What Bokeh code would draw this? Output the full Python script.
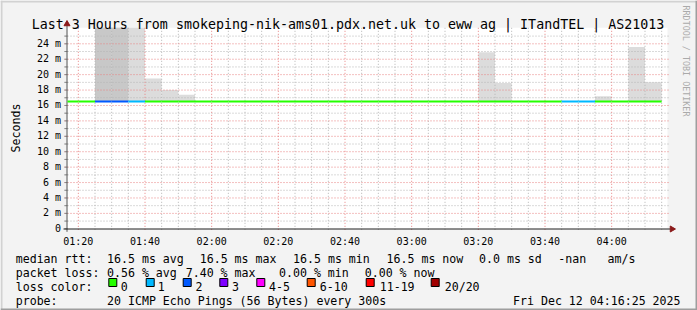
import pandas as pd
from math import pi
from bokeh.plotting import figure
from bokeh.models import Range1d, ColumnDataSource
from bokeh.core.properties import value
from bokeh.embed import file_html
from bokeh.resources import INLINE

DAY = "2025-12-12"
title_text = "Last 3 Hours from smokeping-nik-ams01.pdx.net.uk to eww ag | ITandTEL | AS21013"

# 5-minute consolidated intervals (start times)
interval_start = ["01:15", "01:20", "01:25", "01:30", "01:35", "01:40", "01:45", "01:50", "01:55",
                  "02:00", "02:05", "02:10", "02:15", "02:20", "02:25", "02:30", "02:35", "02:40",
                  "02:45", "02:50", "02:55", "03:00", "03:05", "03:10", "03:15", "03:20", "03:25",
                  "03:30", "03:35", "03:40", "03:45", "03:50", "03:55", "04:00", "04:05", "04:10"]
median_rtt_ms = [16.5, 16.5, 16.5, 16.5, 16.5, 16.5, 16.5, 16.5, 16.5,
                 16.5, 16.5, 16.5, 16.5, 16.5, 16.5, 16.5, 16.5, 16.5,
                 16.5, 16.5, 16.5, 16.5, 16.5, 16.5, 16.5, 16.5, 16.5,
                 16.5, 16.5, 16.5, 16.5, 16.5, 16.5, 16.5, 16.5, 16.5]
lost_pings = [0, 0, 2, 2, 1, 0, 0, 0, 0,
              0, 0, 0, 0, 0, 0, 0, 0, 0,
              0, 0, 0, 0, 0, 0, 0, 0, 0,
              0, 0, 0, 1, 1, 0, 0, 0, 0]
smoke_max_ms = [16.5, 16.5, 28.0, 28.0, 28.0, 19.5, 18.0, 17.4, 16.5,
                16.5, 16.5, 16.5, 16.5, 16.5, 16.5, 16.5, 16.5, 16.5,
                16.5, 16.5, 16.5, 16.5, 16.5, 16.5, 16.5, 22.9, 18.9,
                16.5, 16.5, 16.5, 16.5, 16.5, 17.2, 16.5, 23.6, 19.0]
smoke_dense_ms = [16.5, 16.5, 28.0, 28.0, 16.5, 16.5, 16.5, 16.5, 16.5,
                  16.5, 16.5, 16.5, 16.5, 16.5, 16.5, 16.5, 16.5, 16.5,
                  16.5, 16.5, 16.5, 16.5, 16.5, 16.5, 16.5, 16.5, 16.5,
                  16.5, 16.5, 16.5, 16.5, 16.5, 16.5, 16.5, 16.5, 16.5]

y_ticks = [0, 2, 4, 6, 8, 10, 12, 14, 16, 18, 20, 22, 24]
y_tick_labels = ["0", "2 m", "4 m", "6 m", "8 m", "10 m", "12 m", "14 m", "16 m",
                 "18 m", "20 m", "22 m", "24 m"]
y_minor = [1, 3, 5, 7, 9, 11, 13, 15, 17, 19, 21, 23, 25]
x_major = ["01:20", "01:40", "02:00", "02:20", "02:40", "03:00", "03:20", "03:40", "04:00"]
x_minor = ["01:25", "01:30", "01:35", "01:45", "01:50", "01:55", "02:05", "02:10", "02:15",
           "02:25", "02:30", "02:35", "02:45", "02:50", "02:55", "03:05", "03:10", "03:15",
           "03:25", "03:30", "03:35", "03:45", "03:50", "03:55", "04:05", "04:10", "04:15"]

loss_labels = ["0", "1", "2", "3", "4-5", "6-10", "11-19", "20/20"]
loss_colors = ["#26ff00", "#00b8ff", "#0059ff", "#7e00ff", "#ff00ff", "#ff5500", "#ff0000", "#a10000"]
loss_upper = [0, 1, 2, 3, 5, 10, 19, 20]

legend_rtt = ["median rtt:", "16.5 ms avg", "16.5 ms max", "16.5 ms min",
              "16.5 ms now", "0.0 ms sd", "-nan", "am/s"]
legend_loss = ["packet loss:", "0.56 % avg", "7.40 % max", "0.00 % min", "0.00 % now"]
probe_row = ["probe:", "20 ICMP Echo Pings (56 Bytes) every 300s", "Fri Dec 12 04:16:25 2025"]

# ---- layout (pixels of the 697x310 canvas) ----
W, H = 697, 310
PLOT_L, PLOT_R = 67, 667          # 600 px = 3 h  -> 18 s / px
SEC_PER_PX = 18
ZERO_Y, TOP_Y = 228.3, 27.3
PX_PER_MS = 7.708
FONT = "DejaVu Sans Mono"
rtt_x = [15.2, 106.5, 199.2, 292.5, 386.0, 478.5, 557.8, 607.0]
loss_x = [15.2, 106.5, 185.2, 278.5, 364.2]
probe_x = [15.2, 106.5, 512.5]
swatch_x = [108.3, 145.7, 182.7, 219.3, 256.3, 306.7, 365.7, 430.7]
swatch_label_x = [120.2, 157.3, 194.9, 231.5, 268.5, 319.2, 379.2, 444.2]


def ts(hm):
    return pd.Timestamp(f"{DAY} {hm}")


def color_for(n):
    for up, c in zip(loss_upper, loss_colors):
        if n <= up:
            return c
    return loss_colors[-1]


X0, X1 = ts("01:16:45"), ts("04:16:45")
Y_MAX = (ZERO_Y - TOP_Y) / PX_PER_MS

x_range = Range1d(X0 - pd.Timedelta(seconds=PLOT_L * SEC_PER_PX),
                  X1 + pd.Timedelta(seconds=(W - PLOT_R) * SEC_PER_PX))
y_range = Range1d(-(H - ZERO_Y) / PX_PER_MS, ZERO_Y / PX_PER_MS)

p = figure(width=W, height=H, x_range=x_range, y_range=y_range, x_axis_type=None, y_axis_type=None,
           output_backend="svg", toolbar_location=None, title=None, min_border=0,
           background_fill_color="#f3f3f3", border_fill_color="#f3f3f3", outline_line_color=None)
p.extra_x_ranges = {"px": Range1d(0, W)}
p.extra_y_ranges = {"px": Range1d(H, 0)}
p.xgrid.visible = False
p.ygrid.visible = False

# 3D canvas frame
p.quad(left=[0, 0], right=[W, 2], top=[0, 0], bottom=[2, H], fill_color="#d2d2d2",
       line_color=None, x_range_name="px", y_range_name="px")
p.quad(left=[0, W - 2], right=[W, W], top=[H - 2, 0], bottom=[H, H], fill_color="#9e9e9e",
       line_color=None, x_range_name="px", y_range_name="px")

# plot canvas
p.quad(left=[X0], right=[X1], bottom=[0], top=[Y_MAX], fill_color="white", line_color=None)

# smoke
starts = [ts(s) for s in interval_start]
ends = [t + pd.Timedelta(minutes=5) for t in starts]
src = ColumnDataSource(dict(
    start=[max(s, X0) for s in starts], end=[min(e, X1) for e in ends], med=median_rtt_ms,
    top=[min(v, Y_MAX) for v in smoke_max_ms], dense=[min(v, Y_MAX) for v in smoke_dense_ms],
    color=[color_for(n) for n in lost_pings]))
p.quad(left="start", right="end", bottom="med", top="top", source=src,
       fill_color="#dcdcdc", line_color=None)
p.quad(left="start", right="end", bottom="med", top="dense", source=src,
       fill_color="#c8c8c8", line_color=None)

# grid (dotted, drawn over the smoke like rrdtool)
GRID_MINOR, GRID_MAJOR, DASH = "#b4b4b4", "#e88080", "1 2"
p.segment(x0=[ts(t) for t in x_minor], x1=[ts(t) for t in x_minor], y0=TOP_Y, y1=ZERO_Y + 2,
          y_range_name="px", line_color=GRID_MINOR, line_dash=DASH, line_width=1)
p.segment(x0=PLOT_L - 3, x1=PLOT_R + 2, y0=y_minor, y1=y_minor, x_range_name="px",
          line_color=GRID_MINOR, line_dash=DASH, line_width=1)
p.segment(x0=[ts(t) for t in x_major], x1=[ts(t) for t in x_major], y0=TOP_Y, y1=ZERO_Y + 2,
          y_range_name="px", line_color=GRID_MAJOR, line_dash=DASH, line_width=1)
p.segment(x0=PLOT_L - 3, x1=PLOT_R + 2, y0=y_ticks[1:], y1=y_ticks[1:], x_range_name="px",
          line_color=GRID_MAJOR, line_dash=DASH, line_width=1)
# small axis ticks
p.segment(x0=PLOT_L - 3, x1=PLOT_L, y0=y_ticks + y_minor, y1=y_ticks + y_minor, x_range_name="px",
          line_color="#888888", line_width=1)

# axes
AX = "#222222"
p.segment(x0=[66.5], x1=[66.5], y0=[ZERO_Y + 3], y1=[24], x_range_name="px", y_range_name="px",
          line_color="#555555", line_width=1)
p.segment(x0=[63], x1=[670], y0=[228.5], y1=[228.5], x_range_name="px", y_range_name="px",
          line_color=AX, line_width=1)

# median line coloured by packet loss
p.segment(x0="start", x1="end", y0="med", y1="med", source=src, line_color="color", line_width=2)

# arrow heads
ARROW = "#8b1a1a"
p.scatter(x=[66.5], y=[23.5], marker="triangle", size=6, fill_color=ARROW, line_color=ARROW,
          x_range_name="px", y_range_name="px")
p.scatter(x=[671.5], y=[228.5], marker="triangle", size=6, angle=-pi / 2, fill_color=ARROW,
          line_color=ARROW, x_range_name="px", y_range_name="px")

# tick labels (through the data scales)
p.text(x=[66.5 - 6] * len(y_ticks), y=y_ticks, text=y_tick_labels, x_range_name="px",
       text_font=value(FONT), text_font_size=value("10px"), text_align="right",
       text_baseline="middle", y_offset=-0.5, text_color="black")
p.text(x=[ts(t) for t in x_major], y=[240.7] * len(x_major), text=x_major, y_range_name="px",
       text_font=value(FONT), text_font_size=value("10px"), text_align="center",
       text_baseline="alphabetic", text_color="black")


def texts(xs, ys, tx, size="11.6px", color="black", align="left", angle=0.0):
    p.text(x=xs, y=ys, text=tx, x_range_name="px", y_range_name="px", text_font=value(FONT),
           text_font_size=value(size), text_color=color, text_align=align,
           text_baseline="alphabetic", angle=angle)


texts([347.5], [24], [title_text], size="13.3px", align="center")
texts([15], [127.5], ["Seconds"], align="center", angle=pi / 2)
texts([685.5], [5], ["RRDTOOL / TOBI OETIKER"], size="8.4px", color="#aaaaaa", angle=-pi / 2)
texts(rtt_x, [258] * len(rtt_x), legend_rtt)
texts(loss_x, [272] * len(loss_x), legend_loss)
texts([15.2], [286], ["loss color:"])
p.quad(left=swatch_x, right=[x + 8 for x in swatch_x], top=[278] * 8, bottom=[286] * 8,
       fill_color=loss_colors, line_color="black", line_width=1, x_range_name="px", y_range_name="px")
texts(swatch_label_x, [286] * 8, loss_labels)
texts(probe_x, [300] * 3, probe_row)

open("out.html", "w").write(file_html(p, INLINE))
